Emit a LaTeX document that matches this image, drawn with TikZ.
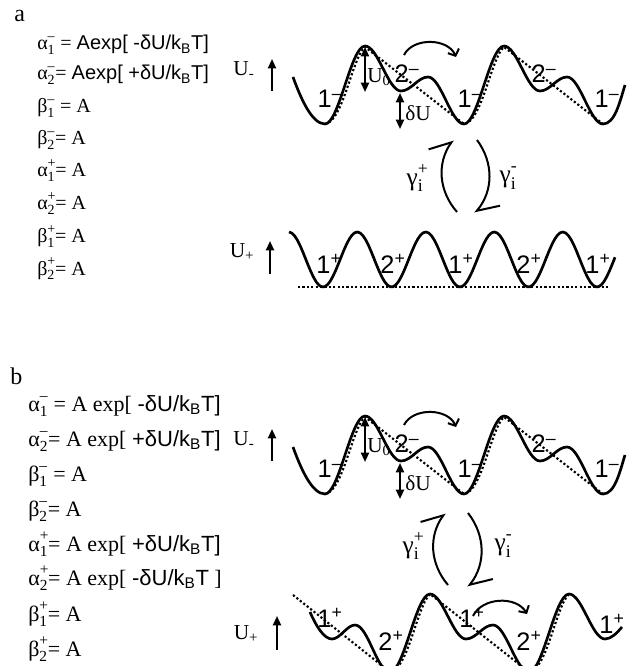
\documentclass[tikz,border=0pt]{standalone}
\usepackage{fontspec}
\setmainfont{Liberation Serif}
\setsansfont{Liberation Sans}
\usetikzlibrary{arrows.meta}

% rate constant with stacked indices
\newcommand{\rk}[3]{#1\rlap{\raisebox{0.12em}{\textsuperscript{#3}}}\raisebox{-0.1em}{\textsubscript{#2}}}
\newcommand{\kbt}{k\textsubscript{B}T}

\begin{document}
\begin{tikzpicture}[x=0.75pt,y=-0.75pt,
    >={Triangle[length=7pt,width=6pt]},
    eq/.style={anchor=base west,inner sep=0pt,font=\fontsize{15}{17}\selectfont},
    eqb/.style={eq,font=\fontsize{16.5}{18}\selectfont},
    tag/.style={anchor=base west,inner sep=0pt,font=\fontsize{18}{18}\selectfont},
    well/.style={line width=2pt,line join=round},
    guide/.style={line width=1.6pt,dash pattern=on 1.6pt off 1.7pt},
    lvl/.style={inner sep=0pt,font=\sffamily\fontsize{19}{19}\selectfont},
    lab/.style={inner sep=0pt,font=\fontsize{16}{16}\selectfont},
    rate/.style={inner sep=0pt,font=\fontsize{19}{19}\selectfont},
    axis/.style={line width=1.5pt,->},
    gap/.style={line width=1.5pt,<->},
    hop/.style={line width=1.5pt,-{Straight Barb[length=4pt,width=9pt]}},
    flip/.style={line width=1.5pt,bend left=38,
      -{Straight Barb[harpoon,length=14pt,width=22pt]}},
    period/.style={insert path={
      .. controls +(14,0) and +(-14,0) .. ++(40,-78)
      .. controls +(13,0) and +(-13,0) .. ++(36,45)
      .. controls +(10,0) and +(-10,0) .. ++(27,-14)
      .. controls +(13,0) and +(-13,0) .. ++(36,47)}}]

\useasboundingbox (0,0) rectangle (631,666);
\clip (0,0) rectangle (631,666);

% rate constants, panel a
\node[tag] (pa) at (14,22) {a};
\node[eq] (a1) at (37,50) {\rk{α}{1}{–} = \textsf{Aexp[ -δU/\kbt]}};
\node[eq] (a2) at (37,80) {\rk{α}{2}{–}= \textsf{Aexp[ +δU/\kbt]}};
\node[eq] (a3) at (37,113) {\rk{β}{1}{–} = A};
\node[eq] (a4) at (37,145) {\rk{β}{2}{–}= A};
\node[eq] (a5) at (37,177) {\rk{α}{1}{+}= A};
\node[eq] (a6) at (37,210) {\rk{α}{2}{+}= A};
\node[eq] (a7) at (37,243) {\rk{β}{1}{+}= A};
\node[eq] (a8) at (37,275) {\rk{β}{2}{+}= A};

% rate constants, panel b
\node[tag] (pb) at (10,384) {b};
\node[eqb] (b1) at (28,411) {\rk{α}{1}{–} = A exp[ \textsf{-δU/\kbt]}};
\node[eqb] (b2) at (28,446) {\rk{α}{2}{–}= A exp[ \textsf{+δU/\kbt]}};
\node[eqb] (b3) at (28,481) {\rk{β}{1}{–} = A};
\node[eqb] (b4) at (28,516) {\rk{β}{2}{–}= A};
\node[eqb] (b5) at (28,551) {\rk{α}{1}{+}= A exp[ \textsf{+δU/\kbt]}};
\node[eqb] (b6) at (28,585) {\rk{α}{2}{+}= A exp[ \textsf{-δU/\kbt} ]};
\node[eqb] (b7) at (28,621) {\rk{β}{1}{+}= A};
\node[eqb] (b8) at (28,656) {\rk{β}{2}{+}= A};

% U- landscape, same in both panels
\foreach \p/\dy in {a/0,b/370}{
  \begin{scope}[shift={(0,\dy)}]
    \draw[well] (293,77) .. controls +(8,22) and +(-13,0) .. (325,124)
      [period] [period] .. controls +(12,0) and +(-5,16) .. (625,85);
    \draw[guide] (325,124) .. controls (343,122) and (352,58) .. (365,47)
      -- (464,124) .. controls (482,122) and (491,58) .. (504,47) -- (603,124);
    \node[lvl] (\p-m1) at (330,99) {1\textsuperscript{–}};
    \node[lvl] (\p-m2) at (407,74) {2\textsuperscript{–}};
    \node[lvl] (\p-m3) at (470,99) {1\textsuperscript{–}};
    \node[lvl] (\p-m4) at (544,74) {2\textsuperscript{–}};
    \node[lvl] (\p-m5) at (607,99) {1\textsuperscript{–}};
    \coordinate (\p-top) at (365,47);
    \coordinate (\p-sad) at (365,92);
    \draw[gap] (\p-top) -- (\p-sad);
    \node[lab,anchor=west] (\p-u0) at (367,77) {U\textsubscript{0}};
    \coordinate (\p-dt) at (400,93);
    \coordinate (\p-db) at (400,129);
    \draw[gap] (\p-dt) -- (\p-db);
    \node[lab,anchor=west] (\p-du) at (405,113) {δU};
    \coordinate (\p-hs) at (404,55);
    \coordinate (\p-he) at (456,57);
    \draw[hop] (\p-hs) to[bend left=65] (\p-he);
    \node[lab] (\p-um) at (244,70) {U\textsubscript{-}};
    \coordinate (\p-ub) at (272,91);
    \coordinate (\p-ut) at (272,59);
    \draw[axis] (\p-ub) -- (\p-ut);
  \end{scope}
}

% panel a: U+ landscape, switching
\node[lab] (a-up) at (242,252) {U\textsubscript{+}};
\coordinate (a-pb) at (270,274);
\coordinate (a-pt) at (270,241);
\draw[axis] (a-pb) -- (a-pt);

\draw[well] plot[domain=289:615,samples=120] (\x,{259.5+27.5*cos(5.2555*(\x-323))});
\draw[guide] (298,287) -- (608,287);
\node[lvl] (a-p1) at (329,264) {1\textsuperscript{+}};
\node[lvl] (a-p2) at (393,264) {2\textsuperscript{+}};
\node[lvl] (a-p3) at (461,264) {1\textsuperscript{+}};
\node[lvl] (a-p4) at (529,264) {2\textsuperscript{+}};
\node[lvl] (a-p5) at (598,264) {1\textsuperscript{+}};

\coordinate (a-g1) at (457,212);
\coordinate (a-g2) at (453,140);
\coordinate (a-g3) at (477,140);
\coordinate (a-g4) at (475,213);
\draw[flip] (a-g1) to (a-g2);
\draw[flip] (a-g3) to (a-g4);
\node[rate] (a-gp) at (415,178) {\rk{γ}{i}{+}};
\node[rate] (a-gm) at (508,178) {\rk{γ}{i}{-}};

% panel b: tilted U+ landscape, switching
\node[lab] (b-up) at (246,634) {U\textsubscript{+}};
\coordinate (b-pb) at (277,650);
\coordinate (b-pt) at (277,616);
\draw[axis] (b-pb) -- (b-pt);

\draw[well] (310,612) .. controls +(6,14) and +(-8,0) .. (332,639)
  .. controls +(8,0) and +(-8,0) .. (355,625)
  .. controls +(13,0) and +(-13,0) .. (390,672) [period]
  .. controls +(14,0) and +(-14,0) .. ++(40,-78)
  .. controls +(13,0) and +(-13,0) .. ++(36,45)
  .. controls +(6,0) and +(-5,6) .. (622,627);
\draw[guide] (293,595) -- (390,672) .. controls (408,670) and (417,606) .. (430,594)
  -- (529,672) .. controls (547,670) and (556,606) .. (569,594);
\node[lvl] (b-p1) at (330,618) {1\textsuperscript{+}};
\node[lvl] (b-p2) at (391,641) {2\textsuperscript{+}};
\node[lvl] (b-p3) at (472,618) {1\textsuperscript{+}};
\node[lvl] (b-p4) at (529,641) {2\textsuperscript{+}};
\node[lvl] (b-p5) at (612,624) {1\textsuperscript{+}};
\coordinate (b-hs) at (473,616);
\coordinate (b-he) at (527,614);
\draw[hop] (b-hs) to[bend left=62] (b-he);

\coordinate (b-g1) at (448,585);
\coordinate (b-g2) at (445,513);
\coordinate (b-g3) at (468,513);
\coordinate (b-g4) at (468,587);
\draw[flip] (b-g1) to (b-g2);
\draw[flip] (b-g3) to (b-g4);
\node[rate] (b-gp) at (411,546) {\rk{γ}{i}{+}};
\node[rate] (b-gm) at (503,546) {\rk{γ}{i}{-}};
\end{tikzpicture}
\end{document}
